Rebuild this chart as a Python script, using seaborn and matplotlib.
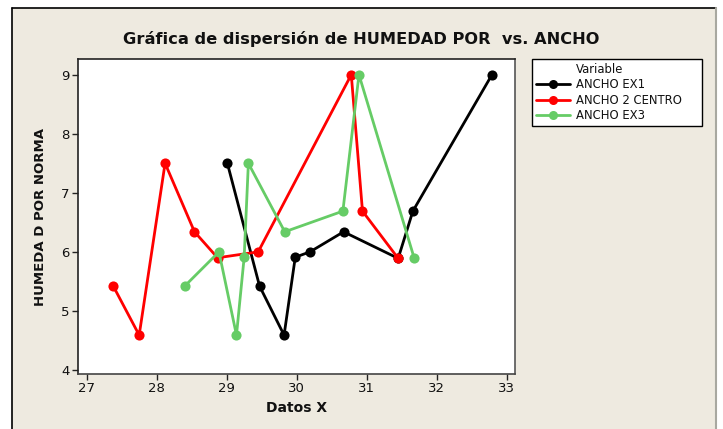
import matplotlib
matplotlib.use("Agg")
import matplotlib.pyplot as plt
from matplotlib.lines import Line2D
import seaborn as sns
import pandas as pd

# ---- data ----
series_names = ["ANCHO EX1", "ANCHO 2 CENTRO", "ANCHO EX3"]
x_ex1 = [29.01, 29.47, 29.82, 29.98, 30.19, 30.67, 31.45, 31.66, 32.79]
y_ex1 = [7.50, 5.42, 4.59, 5.91, 6.00, 6.34, 5.89, 6.69, 9.00]
x_centro = [27.38, 27.75, 28.12, 28.54, 28.87, 29.45, 30.78, 30.94, 31.45]
y_centro = [5.42, 4.59, 7.50, 6.34, 5.90, 6.00, 9.00, 6.69, 5.89]
x_ex3 = [28.40, 28.89, 29.14, 29.25, 29.31, 29.83, 30.66, 30.89, 31.68]
y_ex3 = [5.42, 6.00, 4.59, 5.91, 7.50, 6.34, 6.69, 9.00, 5.89]
x_ticks = [27, 28, 29, 30, 31, 32, 33]
y_ticks = [4, 5, 6, 7, 8, 9]

colors = ["#000000", "#FF0000", "#66CC66"]

frames = []
for name, xs, ys in [(series_names[0], x_ex1, y_ex1),
                     (series_names[1], x_centro, y_centro),
                     (series_names[2], x_ex3, y_ex3)]:
    frames.append(pd.DataFrame({"x": xs, "y": ys, "Variable": name}))
df = pd.concat(frames, ignore_index=True)

sns.set_style("white")
plt.rcParams["font.family"] = ["DejaVu Sans"]
plt.rcParams["text.color"] = "#111111"

W, H = 723, 429
fig = plt.figure(figsize=(W / 100, H / 100), dpi=100)
fig.patch.set_facecolor("white")

# beige panel with border
bg = plt.Rectangle((12 / W, 0), (716 - 12) / W, 1 - 8 / H, transform=fig.transFigure,
                   facecolor="#EEEAE0", edgecolor="none", zorder=-10)
fig.add_artist(bg)
fig.add_artist(Line2D([12 / W, 12 / W], [0, 1 - 8 / H], color="black", lw=1.2,
                      transform=fig.transFigure, zorder=-5))
fig.add_artist(Line2D([12 / W, 716 / W], [1 - 8 / H, 1 - 8 / H], color="black", lw=1.2,
                      transform=fig.transFigure, zorder=-5))
fig.add_artist(Line2D([716 / W, 716 / W], [0, 1 - 8 / H], color="#A8A8A0", lw=1.5,
                      transform=fig.transFigure, zorder=-5))

ax = fig.add_axes([78 / W, 1 - 374 / H, (515 - 78) / W, (374 - 59) / H])
ax.set_zorder(1)
ax.set_facecolor("white")

sns.lineplot(data=df, x="x", y="y", hue="Variable", palette=colors,
             hue_order=series_names, estimator=None, sort=False,
             marker="o", markersize=7.3, markeredgewidth=0, linewidth=2.0,
             legend=False, ax=ax)

ax.set_xlim(26.876, 33.119)
ax.set_ylim(3.932, 9.266)
ax.set_xticks(x_ticks)
ax.set_yticks(y_ticks)
ax.tick_params(axis="both", direction="out", length=4, width=1, color="#222222",
               labelsize=9.5, labelcolor="#111111", bottom=True, left=True, pad=2)
for s in ax.spines.values():
    s.set_color("#222222")
    s.set_linewidth(1.2)
ax.spines["right"].set_color("#555555")
ax.spines["bottom"].set_color("#444444")

ax.set_xlabel("Datos X", fontsize=10, fontweight="bold", labelpad=4, color="#111111")
ax.set_ylabel("HUMEDA D POR NORMA", fontsize=9.5, fontweight="bold", labelpad=10, color="#111111")

fig.text(361 / W, 1 - 39 / H, "Gráfica de dispersión de HUMEDAD POR  vs. ANCHO",
         ha="center", va="center", fontsize=11.7, fontweight="bold", color="#111111")

handles = [Line2D([], [], linestyle="none", marker=None)]
labels = ["Variable"]
for name, c in zip(series_names, colors):
    handles.append(Line2D([], [], color=c, lw=2, marker="o", markersize=6.5, markeredgewidth=0))
    labels.append(name)
leg = fig.legend(handles, labels, loc="upper left",
                 bbox_to_anchor=(532 / W, 0, 170 / W, 1 - 59 / H),
                 bbox_transform=fig.transFigure, mode="expand", fontsize=8.35, frameon=True,
                 fancybox=False, framealpha=1.0, borderaxespad=0, borderpad=0.35,
                 handlelength=2.9, handletextpad=0.55, labelspacing=0.2)
leg.set_zorder(2)
leg.get_frame().set_edgecolor("black")
leg.get_frame().set_linewidth(1.0)
leg.get_frame().set_facecolor("white")
for t in leg.get_texts():
    t.set_color("#111111")

fig.savefig("out.png", dpi=100, facecolor=fig.get_facecolor())
